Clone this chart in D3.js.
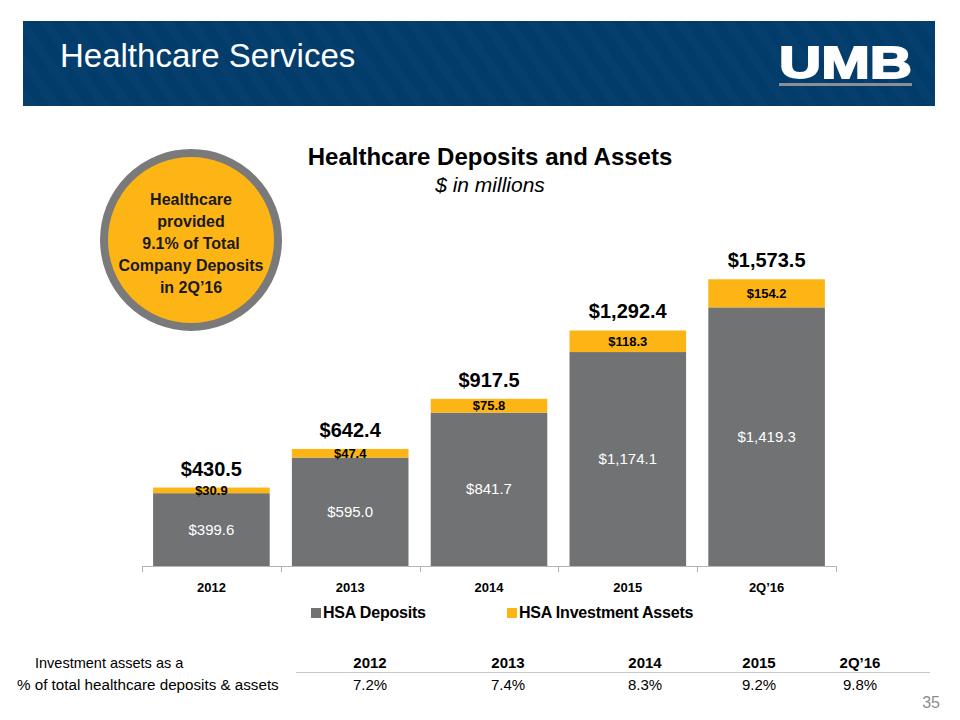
<!DOCTYPE html>
<html>
<head>
<meta charset="utf-8">
<script src="https://cdn.jsdelivr.net/npm/d3@7"></script>
<style>
  html, body { margin: 0; padding: 0; background: #fff; }
  svg { display: block; font-family: "Liberation Sans", Arial, sans-serif; }
</style>
</head>
<body>
<svg id="chart" width="960" height="720"></svg>
<script>
const categories = ["2012", "2013", "2014", "2015", "2Q\u201916"];
const hsaDeposits = [399.6, 595.0, 841.7, 1174.1, 1419.3];
const hsaInvestments = [30.9, 47.4, 75.8, 118.3, 154.2];
const totals = [430.5, 642.4, 917.5, 1292.4, 1573.5];
const seriesNames = ["HSA Deposits", "HSA Investment Assets"];
const pctLabels = ["7.2%", "7.4%", "8.3%", "9.2%", "9.8%"];
const pctHeaders = ["2012", "2013", "2014", "2015", "2Q\u201916"];

const GRAY = "#717273";
const ORANGE = "#FDB515";
const fmt = d3.format("$,.1f");

const svg = d3.select("#chart");

// ---- header band ----
const defs = svg.append("defs");
const pat = defs.append("pattern").attr("id", "stripes")
  .attr("patternUnits", "userSpaceOnUse").attr("width", 20).attr("height", 20)
  .attr("patternTransform", "rotate(-35)");
pat.append("rect").attr("width", 20).attr("height", 20).attr("fill", "#023c6b");
pat.append("rect").attr("width", 9).attr("height", 20).attr("fill", "#063f6e");

svg.append("rect").attr("x", 23).attr("y", 21).attr("width", 912).attr("height", 85)
  .attr("fill", "url(#stripes)");
svg.append("text").attr("x", 60).attr("y", 67).attr("fill", "#fff")
  .attr("font-size", 33).text("Healthcare Services");
// UMB logo
svg.append("text").attr("x", 779).attr("y", 78).attr("fill", "#fff")
  .attr("font-size", 45).attr("font-weight", "bold")
  .attr("textLength", 133).attr("lengthAdjust", "spacingAndGlyphs")
  .style("stroke", "#fff").style("stroke-width", 1.8).text("UMB");
svg.append("rect").attr("x", 779).attr("y", 83).attr("width", 133).attr("height", 3)
  .attr("fill", "#8a8f96");

// ---- chart titles ----
svg.append("text").attr("x", 490).attr("y", 165).attr("text-anchor", "middle")
  .attr("font-size", 24).attr("font-weight", "bold").attr("fill", "#000")
  .text("Healthcare Deposits and Assets");
svg.append("text").attr("x", 490).attr("y", 192).attr("text-anchor", "middle")
  .attr("font-size", 21).attr("font-style", "italic").attr("fill", "#000")
  .text("$ in millions");

// ---- callout circle ----
svg.append("circle").attr("cx", 191).attr("cy", 240).attr("r", 87)
  .attr("fill", ORANGE).attr("stroke", "#7a7a7a").attr("stroke-width", 8);
const circLines = ["Healthcare", "provided", "9.1% of Total", "Company Deposits", "in 2Q\u201916"];
svg.append("g").selectAll("text").data(circLines).join("text")
  .attr("x", 191).attr("y", (d, i) => 205 + i * 22).attr("text-anchor", "middle")
  .attr("font-size", 16).attr("font-weight", "bold").attr("fill", "#1a1a1a")
  .text(d => d);

// ---- scales ----
const x = d3.scaleBand().domain(categories).range([142, 836])
  .paddingInner(0.16).paddingOuter(0.08);
const y = d3.scaleLinear().domain([0, 1800]).range([566, 238]);

const data = categories.map((c, i) => ({
  cat: c, dep: hsaDeposits[i], inv: hsaInvestments[i], tot: totals[i]
}));

const bars = svg.append("g");
bars.selectAll("rect.dep").data(data).join("rect").attr("class", "dep")
  .attr("x", d => x(d.cat)).attr("width", x.bandwidth())
  .attr("y", d => y(d.dep)).attr("height", d => y(0) - y(d.dep))
  .attr("fill", GRAY);
bars.selectAll("rect.inv").data(data).join("rect").attr("class", "inv")
  .attr("x", d => x(d.cat)).attr("width", x.bandwidth())
  .attr("y", d => y(d.dep + d.inv)).attr("height", d => y(d.dep) - y(d.dep + d.inv))
  .attr("fill", ORANGE);

bars.selectAll("text.dep").data(data).join("text").attr("class", "dep")
  .attr("x", d => x(d.cat) + x.bandwidth() / 2)
  .attr("y", d => (y(0) + y(d.dep)) / 2 + 5)
  .attr("text-anchor", "middle").attr("font-size", 15).attr("fill", "#fff")
  .text(d => fmt(d.dep));
bars.selectAll("text.inv").data(data).join("text").attr("class", "inv")
  .attr("x", d => x(d.cat) + x.bandwidth() / 2)
  .attr("y", d => (y(d.dep) + y(d.dep + d.inv)) / 2 + 4.5)
  .attr("text-anchor", "middle").attr("font-size", 13).attr("font-weight", "bold")
  .attr("fill", "#000").text(d => fmt(d.inv));
bars.selectAll("text.tot").data(data).join("text").attr("class", "tot")
  .attr("x", d => x(d.cat) + x.bandwidth() / 2)
  .attr("y", d => y(d.tot) - 12)
  .attr("text-anchor", "middle").attr("font-size", 20).attr("font-weight", "bold")
  .attr("fill", "#000").text(d => fmt(d.tot));

// ---- x axis ----
const axisG = svg.append("g");
const [r0, r1] = x.range();
axisG.append("line").attr("x1", r0).attr("x2", r1).attr("y1", y(0) + 0.5).attr("y2", y(0) + 0.5)
  .attr("stroke", "#b5b5b5").attr("stroke-width", 1);
const bounds = d3.range(categories.length + 1).map(i => r0 + i * x.step());
axisG.selectAll("line.tick").data(bounds).join("line").attr("class", "tick")
  .attr("x1", d => Math.round(d) + 0.5).attr("x2", d => Math.round(d) + 0.5)
  .attr("y1", y(0)).attr("y2", y(0) + 6).attr("stroke", "#b5b5b5");
axisG.selectAll("text").data(categories).join("text")
  .attr("x", d => x(d) + x.bandwidth() / 2).attr("y", 592)
  .attr("text-anchor", "middle").attr("font-size", 13).attr("font-weight", "bold")
  .attr("fill", "#000").text(d => d);

// ---- legend ----
const legX = [311, 507];
const legColors = [GRAY, ORANGE];
const leg = svg.append("g");
seriesNames.forEach((n, i) => {
  leg.append("rect").attr("x", legX[i]).attr("y", 608).attr("width", 10).attr("height", 10)
    .attr("fill", legColors[i]);
  leg.append("text").attr("x", legX[i] + 12).attr("y", 618)
    .attr("font-size", 16).attr("font-weight", "bold").attr("letter-spacing", -0.2)
    .attr("fill", "#000").text(n);
});

// ---- table ----
const colX = [370, 508, 645, 759, 860];
const tbl = svg.append("g");
tbl.append("text").attr("x", 35).attr("y", 668).attr("font-size", 14.5).attr("fill", "#000")
  .text("Investment assets as a");
tbl.append("text").attr("x", 17).attr("y", 690).attr("font-size", 15.2).attr("fill", "#000")
  .text("% of total healthcare deposits & assets");
tbl.selectAll("text.h").data(pctHeaders).join("text").attr("class", "h")
  .attr("x", (d, i) => colX[i]).attr("y", 668).attr("text-anchor", "middle")
  .attr("font-size", 15).attr("font-weight", "bold").attr("fill", "#000").text(d => d);
tbl.append("line").attr("x1", 296).attr("x2", 930).attr("y1", 672.5).attr("y2", 672.5)
  .attr("stroke", "#c8c8c8");
tbl.selectAll("text.v").data(pctLabels).join("text").attr("class", "v")
  .attr("x", (d, i) => colX[i]).attr("y", 690).attr("text-anchor", "middle")
  .attr("font-size", 15).attr("fill", "#000").text(d => d);

svg.append("text").attr("x", 940).attr("y", 708).attr("text-anchor", "end")
  .attr("font-size", 16).attr("fill", "#8c8c8c").text("35");
</script>
</body>
</html>
